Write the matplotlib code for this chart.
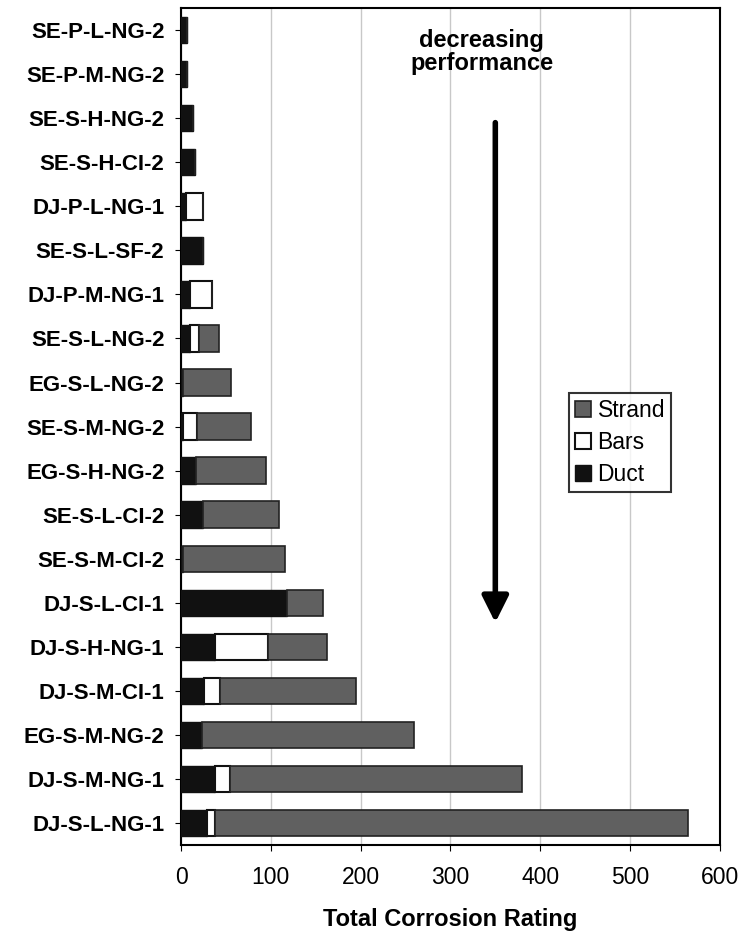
import numpy as np
import matplotlib
matplotlib.use("Agg")
import matplotlib.pyplot as plt

plt.rcParams['font.family'] = ['Liberation Sans', 'DejaVu Sans']

# specimens, listed top to bottom as in the chart
labels = ["SE-P-L-NG-2", "SE-P-M-NG-2", "SE-S-H-NG-2", "SE-S-H-CI-2", "DJ-P-L-NG-1",
          "SE-S-L-SF-2", "DJ-P-M-NG-1", "SE-S-L-NG-2", "EG-S-L-NG-2", "SE-S-M-NG-2",
          "EG-S-H-NG-2", "SE-S-L-CI-2", "SE-S-M-CI-2", "DJ-S-L-CI-1", "DJ-S-H-NG-1",
          "DJ-S-M-CI-1", "EG-S-M-NG-2", "DJ-S-M-NG-1", "DJ-S-L-NG-1"]
duct = [7, 7, 13, 15, 5, 24, 10, 10, 2, 2, 17, 24, 2, 118, 38, 25, 23, 38, 29]
bars = [0, 0, 0, 0, 19, 0, 24, 10, 0, 16, 0, 0, 0, 0, 59, 18, 0, 16, 9]
strand = [0, 0, 0, 0, 0, 0, 0, 22, 54, 60, 78, 85, 114, 40, 65, 152, 236, 326, 527]

duct = np.array(duct)
bars = np.array(bars)
strand = np.array(strand)
y = np.arange(len(labels))

fig = plt.figure(figsize=(7.39, 9.32), dpi=100)
ax = fig.add_axes([0.245, 0.0933, 0.729, 0.898])

h = 0.6
ax.barh(y, duct, height=h, color='#111111', edgecolor='#111111', lw=1, label='Duct', zorder=3)
ax.barh(y, bars, left=duct, height=h, color='white', edgecolor='#111111', lw=1.5, label='Bars', zorder=3)
ax.barh(y, strand, left=duct + bars, height=h, color='#606060', edgecolor='#222222', lw=1.2, label='Strand', zorder=3)

ax.set_xlim(0, 600)
ax.set_ylim(len(labels) - 0.5, -0.5)
ax.set_yticks(y)
ax.set_yticklabels(labels, fontsize=16, fontweight='bold')
ax.set_xticks(np.arange(0, 601, 100))
ax.tick_params(axis='x', labelsize=16.5, length=4, pad=11)
ax.tick_params(axis='y', length=4, pad=8)
ax.xaxis.grid(True, color='#c8c8c8', lw=1)
ax.set_axisbelow(True)
for s in ax.spines.values():
    s.set_linewidth(1.5)
    s.set_color('black')

ax.set_xlabel("Total Corrosion Rating", fontsize=17, fontweight='bold', labelpad=14)

ax.text(335, 0.5, "decreasing\nperformance", ha='center', va='center',
        fontsize=17, fontweight='bold', linespacing=1.0)
ax.annotate('', xy=(350, 13.45), xytext=(350, 2.1),
            arrowprops=dict(arrowstyle='-|>', lw=4, mutation_scale=40, color='black',
                            shrinkA=0, shrinkB=0))

handles, labs = ax.get_legend_handles_labels()
leg = ax.legend(handles[::-1], labs[::-1], loc='upper left', bbox_to_anchor=(0.72, 0.54),
                fontsize=16.5, frameon=True, fancybox=False, edgecolor='black',
                handlelength=0.7, handleheight=0.7, handletextpad=0.3,
                borderpad=0.25, labelspacing=0.4, borderaxespad=0)
leg.get_frame().set_linewidth(1.5)

fig.savefig("out.png", dpi=100)
plt.close(fig)
